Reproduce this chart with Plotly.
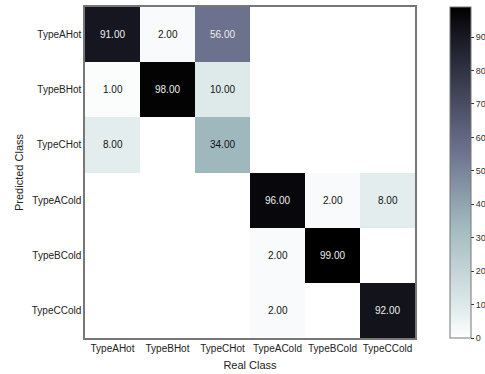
import plotly.graph_objects as go

# Class labels (columns = real class, rows = predicted class)
real_classes = ["TypeAHot", "TypeBHot", "TypeCHot", "TypeACold", "TypeBCold", "TypeCCold"]
predicted_classes = ["TypeAHot", "TypeBHot", "TypeCHot", "TypeACold", "TypeBCold", "TypeCCold"]

# Confusion matrix counts, one list per predicted class
row_a_hot = [91, 2, 56, 0, 0, 0]
row_b_hot = [1, 98, 10, 0, 0, 0]
row_c_hot = [8, 0, 34, 0, 0, 0]
row_a_cold = [0, 0, 0, 96, 2, 8]
row_b_cold = [0, 0, 0, 2, 99, 0]
row_c_cold = [0, 0, 0, 2, 0, 92]
matrix = [row_a_hot, row_b_hot, row_c_hot, row_a_cold, row_b_cold, row_c_cold]

colorbar_ticks = [0, 10, 20, 30, 40, 50, 60, 70, 80, 90]

# Bone-like reversed colormap (white -> pale teal -> slate blue -> black)
bone_r = [
    [0.0, "rgb(255,255,255)"],
    [0.08, "rgb(227,237,238)"],
    [0.34, "rgb(160,185,190)"],
    [0.57, "rgb(107,112,140)"],
    [0.92, "rgb(22,22,32)"],
    [1.0, "rgb(0,0,0)"],
]

vmax = max(max(r) for r in matrix)
FONT = "Liberation Sans, Arial, sans-serif"

fig = go.Figure(
    go.Heatmap(
        z=matrix,
        x=real_classes,
        y=predicted_classes,
        zmin=0,
        zmax=vmax,
        colorscale=bone_r,
        colorbar=dict(
            xref="container",
            x=450 / 485,
            xanchor="left",
            xpad=0,
            yref="paper",
            y=0,
            yanchor="bottom",
            ypad=0,
            len=1,
            lenmode="fraction",
            thickness=21,
            outlinewidth=1,
            outlinecolor="#777777",
            tickmode="array",
            tickvals=colorbar_ticks,
            ticks="outside",
            ticklen=3,
            tickcolor="#333333",
            tickfont=dict(family=FONT, size=9, color="#333333"),
        ),
    )
)

# Cell value labels for non-empty cells; light text on dark cells
annotations = []
for i, pred in enumerate(predicted_classes):
    for j, real in enumerate(real_classes):
        v = matrix[i][j]
        if v == 0:
            continue
        annotations.append(
            dict(
                x=real,
                y=pred,
                text=f"{v:.2f}",
                showarrow=False,
                font=dict(
                    family=FONT,
                    size=10,
                    color="#eeeeee" if v > vmax / 2 else "#111111",
                ),
            )
        )

fig.update_layout(
    width=485,
    height=374,
    margin=dict(l=85, r=70, t=7, b=36, autoexpand=False),
    paper_bgcolor="white",
    plot_bgcolor="white",
    font=dict(family=FONT, size=10, color="#222222"),
    annotations=annotations,
    xaxis=dict(
        title=dict(text="Real Class", font=dict(size=11), standoff=9),
        showline=True,
        mirror=True,
        linecolor="#777777",
        linewidth=1.5,
        ticks="",
        tickangle=0,
        showgrid=False,
        zeroline=False,
        tickfont=dict(size=10),
        automargin=False,
    ),
    yaxis=dict(
        title=dict(text="Predicted Class", font=dict(size=11), standoff=6),
        autorange="reversed",
        showline=True,
        mirror=True,
        linecolor="#777777",
        linewidth=1.5,
        ticks="",
        showgrid=False,
        zeroline=False,
        tickfont=dict(size=10),
        automargin=False,
    ),
)

fig.write_html("out.html")
